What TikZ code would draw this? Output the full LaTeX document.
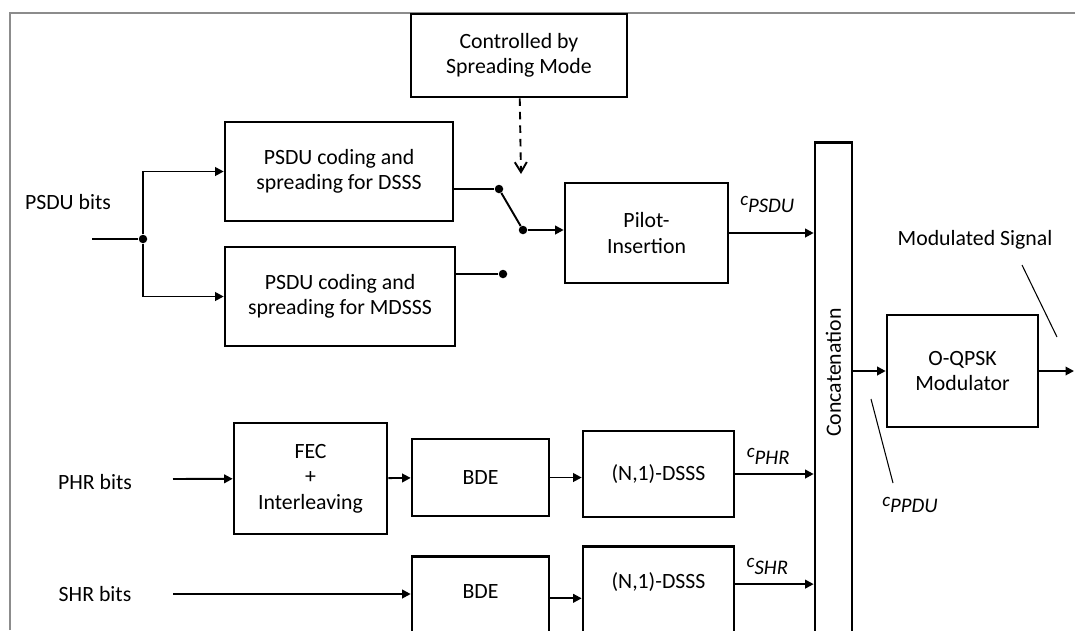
\documentclass[tikz,border=0pt]{standalone}
\usepackage{fontspec}
\setmainfont{Carlito}
\usepackage{graphicx}
\usetikzlibrary{arrows.meta}

\newcommand{\sigc}[1]{{\itshape\raisebox{3.8pt}{\fontsize{10.8}{11}\selectfont c}\fontsize{11.8}{13}\selectfont #1}}

\begin{document}
\begin{tikzpicture}[
  x=0.02cm, y=-0.02cm,
  every node/.style={align=center, font=\fontsize{12.4}{14.5}\selectfont},
  blockbox/.style={draw, line width=1.5pt, inner sep=2pt},
  tallbox/.style={blockbox, anchor=north, text height=0.7cm, text depth=2cm, inner ysep=0.14cm},
  dot/.style={circle, fill, inner sep=0pt, minimum size=0.17cm},
  sig/.style={line width=1.1pt},
  siglabel/.style={above=3pt, inner sep=2pt},
  leader/.style={line width=0.6pt},
  frame/.style={line width=1.2pt, draw=black!45},
  >={Triangle[length=1.7mm, width=1.7mm]}
]
\clip (0,0) rectangle (1075,630);
\draw[frame] (10,630) -- (10,13) -- (1075,13);

\node[blockbox, minimum width=4.32cm, minimum height=1.66cm] (ctrl) at (519,55.5) {Controlled by\\Spreading Mode};
\node[blockbox, minimum width=4.56cm, minimum height=1.98cm] (dsss) at (339,171.5) {PSDU coding and\\spreading for DSSS};
\node[blockbox, minimum width=4.6cm, minimum height=1.98cm] (mdsss) at (340,296.5) {PSDU coding and\\spreading for MDSSS};
\node[blockbox, minimum width=3.26cm, minimum height=2cm] (pilot) at (646.5,233) {Pilot-\\Insertion};
\node[blockbox, anchor=north, minimum width=0.74cm, inner xsep=0pt, inner ysep=3.32cm, text depth=2cm] (concat) at (833.5,141) {\rotatebox{90}{Concatenation}};
\node[blockbox, minimum width=3.02cm, minimum height=2.24cm] (qpsk) at (962.5,371) {O-QPSK\\Modulator};
\node[blockbox, minimum width=3.06cm, minimum height=2.22cm] (fec) at (310.5,478.5) {FEC\\+\\Interleaving};
\node[blockbox, minimum width=2.74cm, minimum height=1.54cm] (bde1) at (480.5,477.5) {BDE};
\node[blockbox, minimum width=3.02cm, minimum height=1.72cm] (dsss1) at (658.5,474) {(N,1)-DSSS};
\node[tallbox, minimum width=2.74cm] (bde2) at (480.5,555) {BDE};
\node[tallbox, minimum width=3.02cm] (dsss2) at (658.5,545) {(N,1)-DSSS};

\node (psdulbl) at (68,202) {PSDU bits};
\node (phrlbl) at (95,482) {PHR bits};
\node (shrlbl) at (95,594) {SHR bits};
\node (modlbl) at (975,240) {Modulated Signal};
\node (ppdulbl) at (910,505) {\sigc{PPDU}};

\coordinate (psduin) at (92,239);
\node[dot] (split) at (143,239) {};
\node[dot] (sw1) at (499,189) {};
\node[dot] (sw2) at (523,230) {};
\node[dot] (sw3) at (503,274) {};
\coordinate (ctrlend) at (521,174);
\coordinate (phrin) at (173,479);
\coordinate (shrin) at (173,594);
\coordinate (outend) at (1074,371);
\coordinate (ms1) at (1022,265);
\coordinate (ms2) at (1057,337);
\coordinate (pp1) at (871,399);
\coordinate (pp2) at (893,483);

\draw[sig] (psduin) -- (split);
\draw[sig,->] (split) |- (dsss.west);
\draw[sig,->] (split) |- (mdsss.west);
\draw[sig] (sw1 -| dsss.east) -- (sw1);
\draw[sig] (sw3 -| mdsss.east) -- (sw3);
\draw[sig] (sw1) -- (sw2);
\draw[sig,->] (sw2) -- (sw2 -| pilot.west);
\draw[sig, dash pattern=on 0.15cm off 0.12cm, -{Straight Barb[length=2mm, width=2.4mm]}] (ctrl) -- (ctrlend);
\draw[sig,->] (pilot.east) -- (pilot.east -| concat.west) node[siglabel, above=6pt, pos=0.45] {\sigc{PSDU}};
\draw[sig,->] (phrin) -- (fec);
\draw[sig,->] (fec) -- (bde1);
\draw[sig,->] (bde1) -- (bde1 -| dsss1.west);
\draw[sig,->] (dsss1) -- (dsss1 -| concat.west) node[siglabel, pos=0.42] {\sigc{PHR}};
\draw[sig,->] (shrin) -- (shrin -| bde2.west);
\draw[sig,->] (bde2.base east) -- (bde2.base east -| dsss2.west);
\draw[sig,->] (dsss2.mid east) -- (dsss2.mid east -| concat.west) node[siglabel, pos=0.41] {\sigc{SHR}};
\draw[sig,->] (concat.east |- qpsk.west) -- (qpsk.west);
\draw[sig,->] (qpsk) -- (outend);
\draw[leader] (ms1) -- (ms2);
\draw[leader] (pp1) -- (pp2);
\end{tikzpicture}
\end{document}
